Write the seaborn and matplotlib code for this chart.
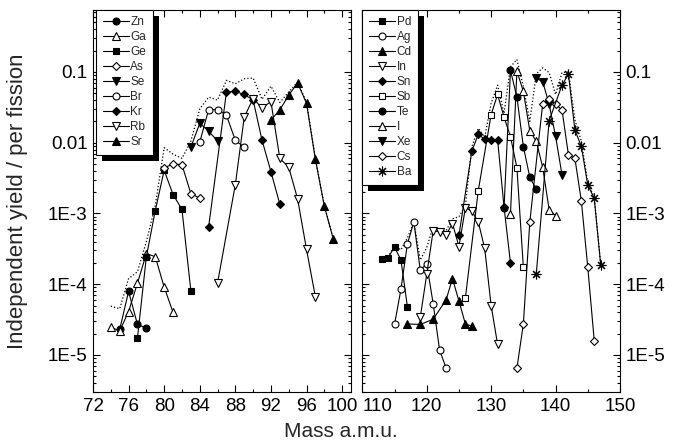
import numpy as np
import seaborn as sns
import matplotlib.pyplot as plt
from matplotlib.ticker import FixedLocator, LogLocator, NullFormatter, MultipleLocator
from matplotlib.patches import Rectangle

# ---- left panel (light fragments) ----
zn_m = [75, 76, 77, 78]
zn_y = [2.3e-5, 7.9e-5, 2.7e-5, 2.4e-5]
ga_m = [74, 75, 76, 77, 78, 79, 80, 81]
ga_y = [2.45e-5, 2.2e-5, 4.1e-5, 1.04e-4, 2.7e-4, 2.45e-4, 9.1e-5, 4.0e-5]
ge_m = [77, 78, 79, 80, 81, 82, 83]
ge_y = [1.75e-5, 2.45e-4, 1.1e-3, 4.07e-3, 1.85e-3, 1.14e-3, 8.1e-5]
as_m = [80, 81, 82, 83, 84]
as_y = [4.4e-3, 5.0e-3, 4.9e-3, 1.9e-3, 1.65e-3]
se_m = [83, 84, 85, 86]
se_y = [8.6e-3, 1.88e-2, 1.45e-2, 1.06e-2]
br_m = [84, 85, 86, 87, 88, 89]
br_y = [1.02e-2, 2.94e-2, 2.94e-2, 2.44e-2, 1.08e-2, 8.6e-3]
kr_m = [85, 87, 88, 89, 90, 91, 92, 93]
kr_y = [6.5e-4, 5.2e-2, 5.3e-2, 4.8e-2, 4.0e-2, 1.08e-2, 3.9e-3, 1.35e-3]
rb_m = [86, 88, 89, 90, 91, 92, 93, 94, 95, 96, 97]
rb_y = [1.04e-4, 2.56e-3, 2.3e-2, 4.2e-2, 3.1e-2, 3.8e-2, 6.0e-3, 4.5e-3, 1.6e-3, 3.1e-4, 6.6e-5]
sr_m = [92, 93, 94, 95, 96, 97, 98, 99]
sr_y = [2.1e-2, 2.9e-2, 4.7e-2, 7.0e-2, 3.6e-2, 5.8e-3, 1.27e-3, 4.4e-4]
tot_l_m = list(range(74, 100))
tot_l_y = [4.9e-5, 4.5e-5, 1.2e-4, 1.5e-4, 4.0e-4, 1.3e-3, 8.5e-3, 6.9e-3, 6.0e-3,
           1.05e-2, 3.0e-2, 4.4e-2, 4.0e-2, 7.6e-2, 6.8e-2, 8.0e-2, 8.2e-2, 4.1e-2,
           6.3e-2, 3.7e-2, 5.2e-2, 7.2e-2, 3.7e-2, 5.9e-3, 1.3e-3, 4.4e-4]

# ---- right panel (heavy fragments) ----
pd_m = [113, 114, 115, 116, 117]
pd_y = [2.3e-4, 2.37e-4, 3.35e-4, 2.2e-4, 4.8e-5]
ag_m = [115, 116, 117, 118, 119, 120, 121, 122, 123]
ag_y = [2.7e-5, 8.5e-5, 3.7e-4, 7.6e-4, 1.58e-4, 1.95e-4, 5.3e-5, 1.17e-5, 6.6e-6]
cd_m = [117, 119, 121, 123, 124, 125, 126, 127]
cd_y = [2.75e-5, 2.7e-5, 3.2e-5, 6.0e-5, 1.2e-4, 5.8e-5, 2.75e-5, 2.55e-5]
in_m = [119, 120, 121, 122, 123, 124, 125, 126, 127, 128, 129, 130, 131]
in_y = [3.4e-5, 1.38e-4, 5.7e-4, 5.5e-4, 5.0e-4, 7.2e-4, 3.4e-4, 1.2e-3, 1.08e-3,
        7.6e-4, 3.2e-4, 5.0e-5, 1.41e-5]
sn_m = [125, 127, 128, 129, 130, 131, 132, 133]
sn_y = [4.9e-4, 7.6e-3, 1.31e-2, 1.12e-2, 1.1e-2, 1.1e-2, 1.23e-3, 2.0e-4]
sb_m = [126, 128, 130, 131, 132, 133, 134, 135]
sb_y = [6.4e-5, 2.1e-3, 2.5e-2, 4.8e-2, 2.3e-2, 1.22e-2, 4.4e-3, 1.73e-4]
te_m = [132, 133, 134, 135, 136, 137]
te_y = [1.2e-3, 1.05e-1, 4.4e-2, 8.8e-3, 3.25e-3, 2.2e-3]
i_m = [133, 134, 135, 136, 137, 138, 139, 140]
i_y = [9.9e-4, 1.03e-1, 5.3e-2, 1.47e-2, 1.05e-2, 4.5e-3, 1.13e-3, 9.3e-4]
xe_m = [137, 138, 139, 140, 141]
xe_y = [8.1e-2, 7.3e-2, 3.5e-2, 1.23e-2, 3.5e-3]
cs_m = [134, 135, 136, 138, 139, 140, 141, 142, 143, 144, 145, 146]
cs_y = [6.5e-6, 2.75e-5, 7.6e-4, 3.55e-2, 4.1e-2, 3.5e-2, 2.9e-2, 6.7e-3, 6.0e-3,
        1.5e-3, 1.73e-4, 1.6e-5]
ba_m = [137, 139, 141, 142, 143, 144, 145, 146, 147]
ba_y = [1.38e-4, 2.05e-2, 6.5e-2, 9.3e-2, 1.5e-2, 8.9e-3, 2.5e-3, 1.65e-3, 1.9e-4]
tot_r_m = list(range(113, 148))
tot_r_y = [2.3e-4, 2.4e-4, 3.6e-4, 3.05e-4, 4.5e-4, 7.6e-4, 2.2e-4, 3.3e-4, 6.5e-4,
           5.6e-4, 5.7e-4, 8.4e-4, 9.0e-4, 1.3e-3, 8.7e-3, 1.6e-2, 1.2e-2, 3.6e-2,
           6.5e-2, 2.6e-2, 1.18e-1, 1.5e-1, 6.2e-2, 2.0e-2, 9.4e-2, 1.14e-1, 9.8e-2,
           4.8e-2, 9.8e-2, 1.0e-1, 2.1e-2, 1.05e-2, 2.7e-3, 1.7e-3, 1.9e-4]

ytick_vals = [1e-5, 1e-4, 1e-3, 1e-2, 1e-1]
ytick_labels = ['1E-5', '1E-4', '1E-3', '0.01', '0.1']

sns.set_style("ticks")
plt.rcParams['font.family'] = ['Liberation Sans', 'DejaVu Sans']
plt.rcParams['axes.edgecolor'] = 'black'
plt.rcParams['xtick.color'] = 'black'
plt.rcParams['ytick.color'] = 'black'

fig = plt.figure(figsize=(6.81, 4.43), dpi=100)
ax1 = fig.add_axes([93 / 681, 51 / 443, 258 / 681, 382 / 443])
ax2 = fig.add_axes([362.3 / 681, 51 / 443, 257.7 / 681, 382 / 443], sharey=ax1)
for ax in (ax1, ax2):
    ax.set_yscale('log')

sizes = {'o': 5, '^': 5.5, 'v': 5.5, 's': 5, 'D': 4, (8, 2, 0): 7}


def draw(ax, name, m, y, mk, filled):
    sns.lineplot(x=m, y=y, ax=ax, color='black', lw=0.8, marker=mk,
                 markersize=sizes[mk],
                 markerfacecolor='black' if filled else 'white',
                 markeredgecolor='black', markeredgewidth=0.8, label=name)


# dotted sums first, underneath
sns.lineplot(x=tot_l_m, y=tot_l_y, ax=ax1, color='black', lw=0.9, linestyle=':', legend=False)
sns.lineplot(x=tot_r_m, y=tot_r_y, ax=ax2, color='black', lw=0.9, linestyle=':', legend=False)

draw(ax1, 'Zn', zn_m, zn_y, 'o', True)
draw(ax1, 'Ga', ga_m, ga_y, '^', False)
draw(ax1, 'Ge', ge_m, ge_y, 's', True)
draw(ax1, 'As', as_m, as_y, 'D', False)
draw(ax1, 'Se', se_m, se_y, 'v', True)
draw(ax1, 'Br', br_m, br_y, 'o', False)
draw(ax1, 'Kr', kr_m, kr_y, 'D', True)
draw(ax1, 'Rb', rb_m, rb_y, 'v', False)
draw(ax1, 'Sr', sr_m, sr_y, '^', True)

draw(ax2, 'Pd', pd_m, pd_y, 's', True)
draw(ax2, 'Ag', ag_m, ag_y, 'o', False)
draw(ax2, 'Cd', cd_m, cd_y, '^', True)
draw(ax2, 'In', in_m, in_y, 'v', False)
draw(ax2, 'Sn', sn_m, sn_y, 'D', True)
draw(ax2, 'Sb', sb_m, sb_y, 's', False)
draw(ax2, 'Te', te_m, te_y, 'o', True)
draw(ax2, 'I', i_m, i_y, '^', False)
draw(ax2, 'Xe', xe_m, xe_y, 'v', True)
draw(ax2, 'Cs', cs_m, cs_y, 'D', False)
draw(ax2, 'Ba', ba_m, ba_y, (8, 2, 0), False)

for ax in (ax1, ax2):
    ax.set_ylim(3e-6, 0.75)
    ax.yaxis.set_major_locator(FixedLocator(ytick_vals))
    ax.yaxis.set_minor_locator(LogLocator(base=10, subs=np.arange(2, 10)))
    ax.yaxis.set_minor_formatter(NullFormatter())
    ax.tick_params(which='both', direction='in', top=True, bottom=True,
                   left=True, right=True, width=0.8)
    ax.tick_params(which='major', length=5, labelsize=13.5, pad=4)
    ax.tick_params(which='minor', length=2.5)
    for s in ax.spines.values():
        s.set_linewidth(0.8)
    ax.set_xlabel('')
ax1.set_yticklabels(ytick_labels)

ax1.set_xlim(72, 101)
ax1.set_xticks(range(72, 101, 4))
ax1.xaxis.set_minor_locator(MultipleLocator(2))
ax2.set_xlim(110, 150)
ax2.set_xticks(range(110, 151, 10))
ax2.xaxis.set_minor_locator(MultipleLocator(5))
ax2.tick_params(axis='y', labelleft=False, labelright=True)
ax2.xaxis.get_major_ticks()[0].label1.set_horizontalalignment('left')

ax1.set_ylabel('Independent yield / per fission', fontsize=16)
ax1.yaxis.set_label_coords(-0.25, 0.5)
fig.text(0.5, 0.005, 'Mass a.m.u.', ha='center', va='bottom', fontsize=15)

legs = []
for ax, x0 in ((ax1, 0.012), (ax2, 0.0)):
    leg = ax.legend(loc='upper left', bbox_to_anchor=(x0, 1.0), borderaxespad=0,
                    fontsize=8.5, labelspacing=0.25, handlelength=2.2,
                    handletextpad=0.15, borderpad=0.55, frameon=True,
                    fancybox=False, edgecolor='black', framealpha=1)
    leg.get_frame().set_linewidth(0.8)
    legs.append((ax, leg))

# solid black drop shadow behind each legend box
fig.canvas.draw()
for ax, leg in legs:
    bb = leg.get_window_extent()
    shadow = Rectangle((bb.x0 + 6, bb.y0 - 6), bb.width, bb.height, transform=None,
                       facecolor='black', edgecolor='none', zorder=4.5)
    ax.add_artist(shadow)

fig.savefig('out.png', dpi=100)
